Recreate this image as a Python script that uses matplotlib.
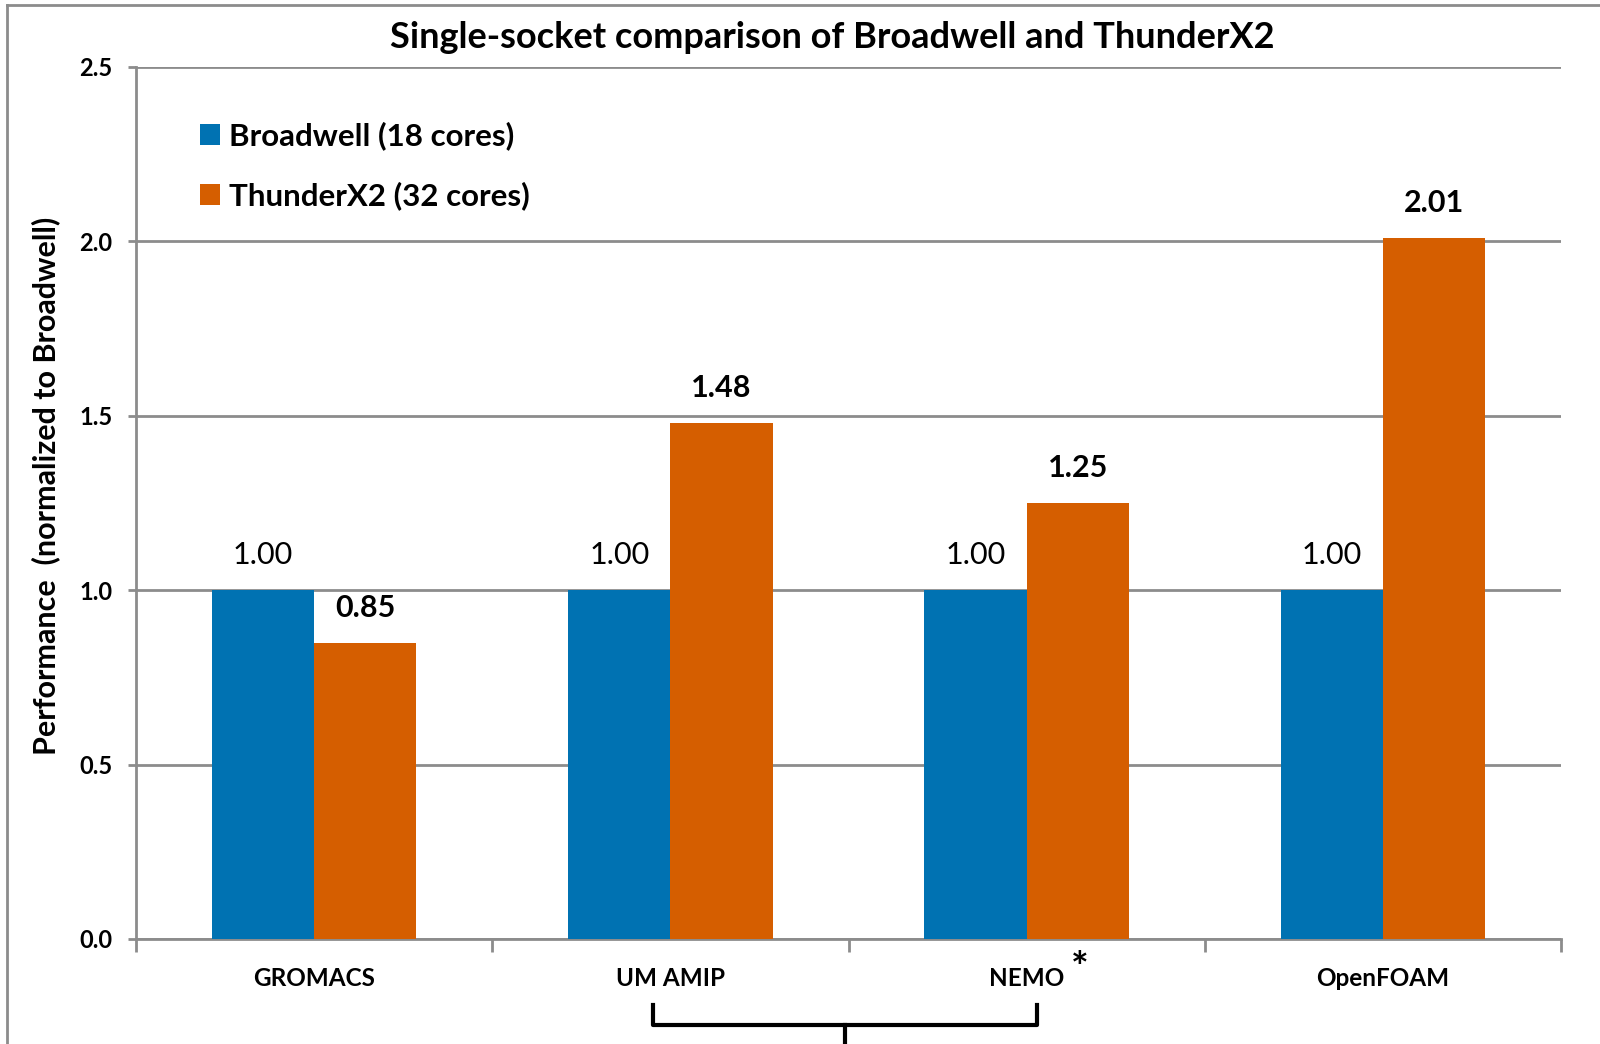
import matplotlib
matplotlib.use("Agg")
import matplotlib.pyplot as plt
from matplotlib.lines import Line2D
from matplotlib.patches import Patch
import matplotlib.transforms as mtransforms
import numpy as np

categories = ["GROMACS", "UM AMIP", "NEMO", "OpenFOAM"]
broadwell = [1.00, 1.00, 1.00, 1.00]
thunderx2 = [0.85, 1.48, 1.25, 2.01]
series_names = ["Broadwell (18 cores)", "ThunderX2 (32 cores)"]
yticks = [0.0, 0.5, 1.0, 1.5, 2.0, 2.5]

BLUE = "#0072B2"
ORANGE = "#D55E00"
GRID = "#8C8C8C"

plt.rcParams['font.family'] = ['Lato', 'DejaVu Sans']

fig = plt.figure(figsize=(16, 10.44), dpi=100)
ax = fig.add_axes([136/1600, 1-939/1044, (1561-136)/1600, (939-67)/1044])

x = np.arange(len(categories))
w = 0.287
b1 = ax.bar(x - w/2, broadwell, w, color=BLUE, zorder=3)
b2 = ax.bar(x + w/2, thunderx2, w, color=ORANGE, zorder=3)

for rect, v in zip(b1, broadwell):
    ax.annotate(f"{v:.2f}", (rect.get_x() + rect.get_width()/2, v),
                xytext=(0, 25), textcoords="offset points", ha="center", va="center",
                fontsize=22, color="black")
for rect, v in zip(b2, thunderx2):
    ax.annotate(f"{v:.2f}", (rect.get_x() + rect.get_width()/2, v),
                xytext=(0, 25), textcoords="offset points", ha="center", va="center",
                fontsize=22, fontweight="bold", color="black")

ax.set_xlim(-0.5, len(categories) - 0.5)
ax.set_ylim(0, 2.5)
ax.set_yticks(yticks)
ax.set_yticklabels([f"{t:.1f}" for t in yticks])
ax.yaxis.grid(True, color=GRID, linewidth=2, zorder=0)
ax.set_axisbelow(True)

# x ticks: labels at category centers, tick marks at boundaries
ax.set_xticks(x)
ax.set_xticklabels(categories)
ax.tick_params(axis="x", length=0, pad=20)
ax.set_xticks(np.arange(-0.5, len(categories), 1.0), minor=True)
ax.tick_params(axis="x", which="minor", length=9, width=2, color=GRID, direction="out")
ax.tick_params(axis="y", length=6, width=2, color=GRID, direction="out", pad=11)
plt.setp(ax.get_yticklabels(), fontsize=17, fontweight="bold")
plt.setp(ax.get_xticklabels(), fontsize=17.5, fontweight="bold")

for s in ["top", "right"]:
    ax.spines[s].set_visible(False)
for s in ["left", "bottom"]:
    ax.spines[s].set_color(GRID)
    ax.spines[s].set_linewidth(2)

ax.set_ylabel("Performance  (normalized to Broadwell)", fontsize=22, fontweight="bold")
ax.yaxis.set_label_coords(-0.053, 0.52)

fig.text(832/1600, 1-38/1044, "Single-socket comparison of Broadwell and ThunderX2",
         ha="center", va="center", fontsize=26, fontweight="bold")

handles = [Patch(facecolor=BLUE), Patch(facecolor=ORANGE)]
ax.legend(handles, series_names, loc="upper left", bbox_to_anchor=(0.025, 0.97),
          frameon=False, handlelength=0.65, handleheight=0.65,
          handletextpad=0.3, labelspacing=1.0, prop={"weight": "bold", "size": 22.5})

# asterisk next to NEMO
trans = mtransforms.blended_transform_factory(ax.transData, ax.transAxes)
ax.text(2.148, -0.035, "*", transform=trans, ha="center", va="center",
        fontsize=30, fontweight="bold", clip_on=False)

# brace grouping UM AMIP and NEMO
xl, xr = 0.95, 2.03
xm = (xl + xr) / 2
yt, yh, yb = -0.076, -0.099, -0.14
ax.add_line(Line2D([xl, xl, xr, xr], [yt, yh, yh, yt], transform=trans,
                   color="black", linewidth=3, clip_on=False, solid_joinstyle="round"))
ax.add_line(Line2D([xm, xm], [yh, yb], transform=trans,
                   color="black", linewidth=3, clip_on=False))

# outer frame (left and top visible)
fig.add_artist(Line2D([7/1600, 7/1600], [0, 1-5/1044], transform=fig.transFigure,
                      color=GRID, linewidth=2))
fig.add_artist(Line2D([7/1600, 1], [1-5/1044, 1-5/1044], transform=fig.transFigure,
                      color=GRID, linewidth=2))

fig.savefig("out.png", dpi=100)
